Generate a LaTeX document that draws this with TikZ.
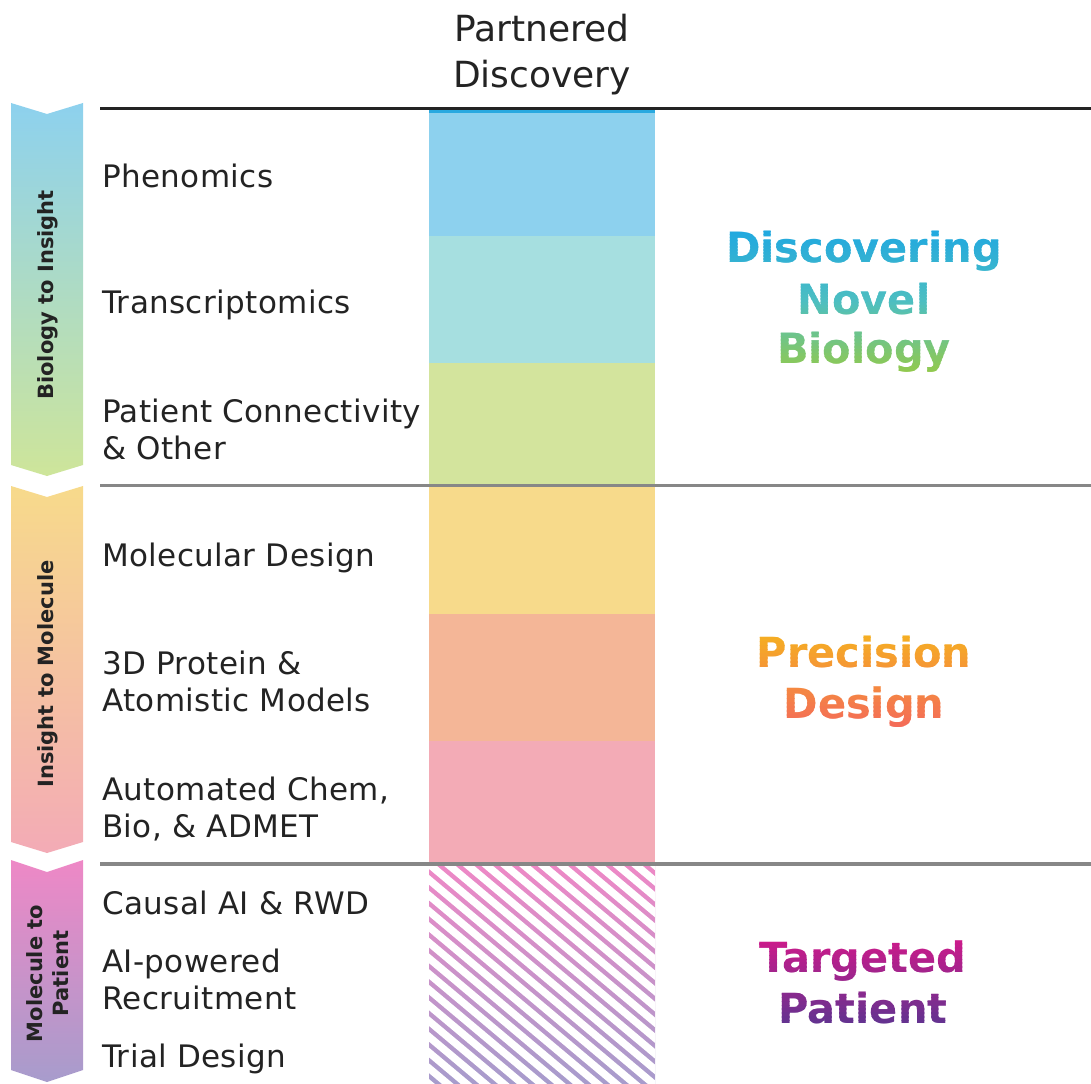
\documentclass[tikz,border=0pt]{standalone}
\usepackage{fontspec}
\setmainfont{DejaVu Sans}
\newfontfamily\labelfont{DejaVu Sans}[LetterSpace=1.2]

\definecolor{inkdark}{HTML}{232323}
\definecolor{rulegray}{HTML}{878787}
\definecolor{celltop}{HTML}{29A9E0}
\definecolor{cellblue}{HTML}{8DD1EE}
\definecolor{cellteal}{HTML}{A6DFE0}
\definecolor{cellgreen}{HTML}{D3E49D}
\definecolor{cellyellow}{HTML}{F7DA8B}
\definecolor{cellorange}{HTML}{F4B697}
\definecolor{cellpink}{HTML}{F3ABB6}
\definecolor{hatchpink}{HTML}{EE88C6}
\definecolor{hatchlav}{HTML}{A79CCC}
\definecolor{arrowgreen}{HTML}{CEE59A}
\definecolor{bioblue}{HTML}{1EA7E1}
\definecolor{bioteal}{HTML}{4DBFC1}
\definecolor{biogreen}{HTML}{9DCB3B}
\definecolor{precorange}{HTML}{F5B120}
\definecolor{precoral}{HTML}{F4685B}
\definecolor{tgtmagenta}{HTML}{D2198A}
\definecolor{tgtpurple}{HTML}{5E3490}

% vertical colour gradient on text: #1 top y, #2 bottom y, #3 top colour, #4 bottom colour, #5 nodes
\newcommand{\gradband}[5]{%
  \pgfmathsetmacro\bandstep{(#2-#1)/24}
  \foreach \s in {0,...,23}{
    \pgfmathsetmacro\bandpct{100*(\s+0.5)/24}
    \begin{scope}
      \clip (700,#1+\s*\bandstep) rectangle (1040,#1+\s*\bandstep+\bandstep+0.6);
      \colorlet{bandcol}{#4!\bandpct!#3}
      #5
    \end{scope}
  }%
}

\tikzset{
  rowlabel/.style={anchor=west, inner sep=0pt, align=left, text=inkdark,
    font=\labelfont\fontsize{31}{37}\selectfont},
  sidetag/.style={rotate=90, inner sep=0pt, align=center, text=inkdark,
    font=\bfseries\fontsize{21}{26}\selectfont},
  headtext/.style={inner sep=0pt, align=center, text=inkdark,
    font=\fontsize{36}{46}\selectfont},
  bigword/.style={anchor=base, inner sep=0pt, text=bandcol,
    font=\bfseries\fontsize{41.5}{52}\selectfont},
  rulebar/.style={line width=3.5pt},
}

\begin{document}
\begin{tikzpicture}[x=1pt,y=-1pt]
    \useasboundingbox (0,0) rectangle (1091,1083);
    \shade[top color=cellblue, bottom color=arrowgreen] (11,103) -- (47,114) -- (83,103) -- (83,465) -- (47,476) -- (11,465) -- cycle;
    \shade[top color=cellyellow, bottom color=cellpink] (11,486) -- (47,497) -- (83,486) -- (83,842) -- (47,853) -- (11,842) -- cycle;
    \shade[top color=hatchpink, bottom color=hatchlav] (11,860) -- (47,872) -- (83,860) -- (83,1070) -- (47,1082) -- (11,1070) -- cycle;
    \node[sidetag] (bioins) at (48,295) {Biology to Insight};
    \node[sidetag] (insmol) at (48,674) {Insight to Molecule};
    \node[sidetag] (molpat) at (47.5,973.5) {Molecule to\\Patient};

    \fill[cellblue] (429,110) rectangle (655,236);
    \fill[celltop] (429,110) rectangle (655,113);
    \fill[cellteal] (429,236) rectangle (655,363);
    \fill[cellgreen] (429,363) rectangle (655,487);
    \fill[cellyellow] (429,487) rectangle (655,614);
    \fill[cellorange] (429,614) rectangle (655,741);
    \fill[cellpink] (429,741) rectangle (655,864);
    \begin{scope}
        \clip (429,864) rectangle (655,1083);
        \shade[top color=hatchpink, bottom color=hatchlav] (429,864) rectangle (655,1083);
        \foreach \k in {0,...,28}
            \draw[white, line width=7.4pt] (420,652.45+\k*15.7) -- (665,858.05+\k*15.7);
    \end{scope}

    \draw[inkdark, rulebar] (100,108.5) -- (1091,108.5);
    \draw[rulegray, rulebar] (100,485.5) -- (1091,485.5);
    \draw[rulegray, rulebar] (100,864) -- (1091,864);

    \node[headtext] (partner) at (542,54.7) {Partnered\\Discovery};

    \node[rowlabel] (phenom) at (102,176) {Phenomics};
    \node[rowlabel] (transcr) at (102,305) {Transcriptomics};
    \node[rowlabel] (patconn) at (102,429) {Patient Connectivity\\\& Other};
    \node[rowlabel] (moldes) at (102,558) {Molecular Design};
    \node[rowlabel] (protein) at (102,681) {3D Protein \&\\Atomistic Models};
    \node[rowlabel] (autochem) at (102,809) {Automated Chem,\\Bio, \& ADMET};
    \node[rowlabel] (causal) at (102,903) {Causal AI \& RWD};
    \node[rowlabel] (recruit) at (102,979) {AI-powered\\Recruitment};
    \node[rowlabel] (trial) at (102,1059) {Trial Design};

    \gradband{228}{302}{bioblue}{bioteal}{
        \node[bigword] (discov) at (864,262.7) {Discovering};
        \node[bigword] (novel) at (864,314) {Novel};
        \node[bigword] (biology) at (864,363.3) {Biology};}
    \gradband{302}{384}{bioteal}{biogreen}{
        \node[bigword] (discov) at (864,262.7) {Discovering};
        \node[bigword] (novel) at (864,314) {Novel};
        \node[bigword] (biology) at (864,363.3) {Biology};}
    \gradband{633}{731}{precorange}{precoral}{
        \node[bigword] (precis) at (864,667) {Precision};
        \node[bigword] (design) at (864,718.5) {Design};}
    \gradband{936}{1028}{tgtmagenta}{tgtpurple}{
        \node[bigword] (target) at (863,972) {Targeted};
        \node[bigword] (patient) at (863,1023) {Patient};}
\end{tikzpicture}
\end{document}
